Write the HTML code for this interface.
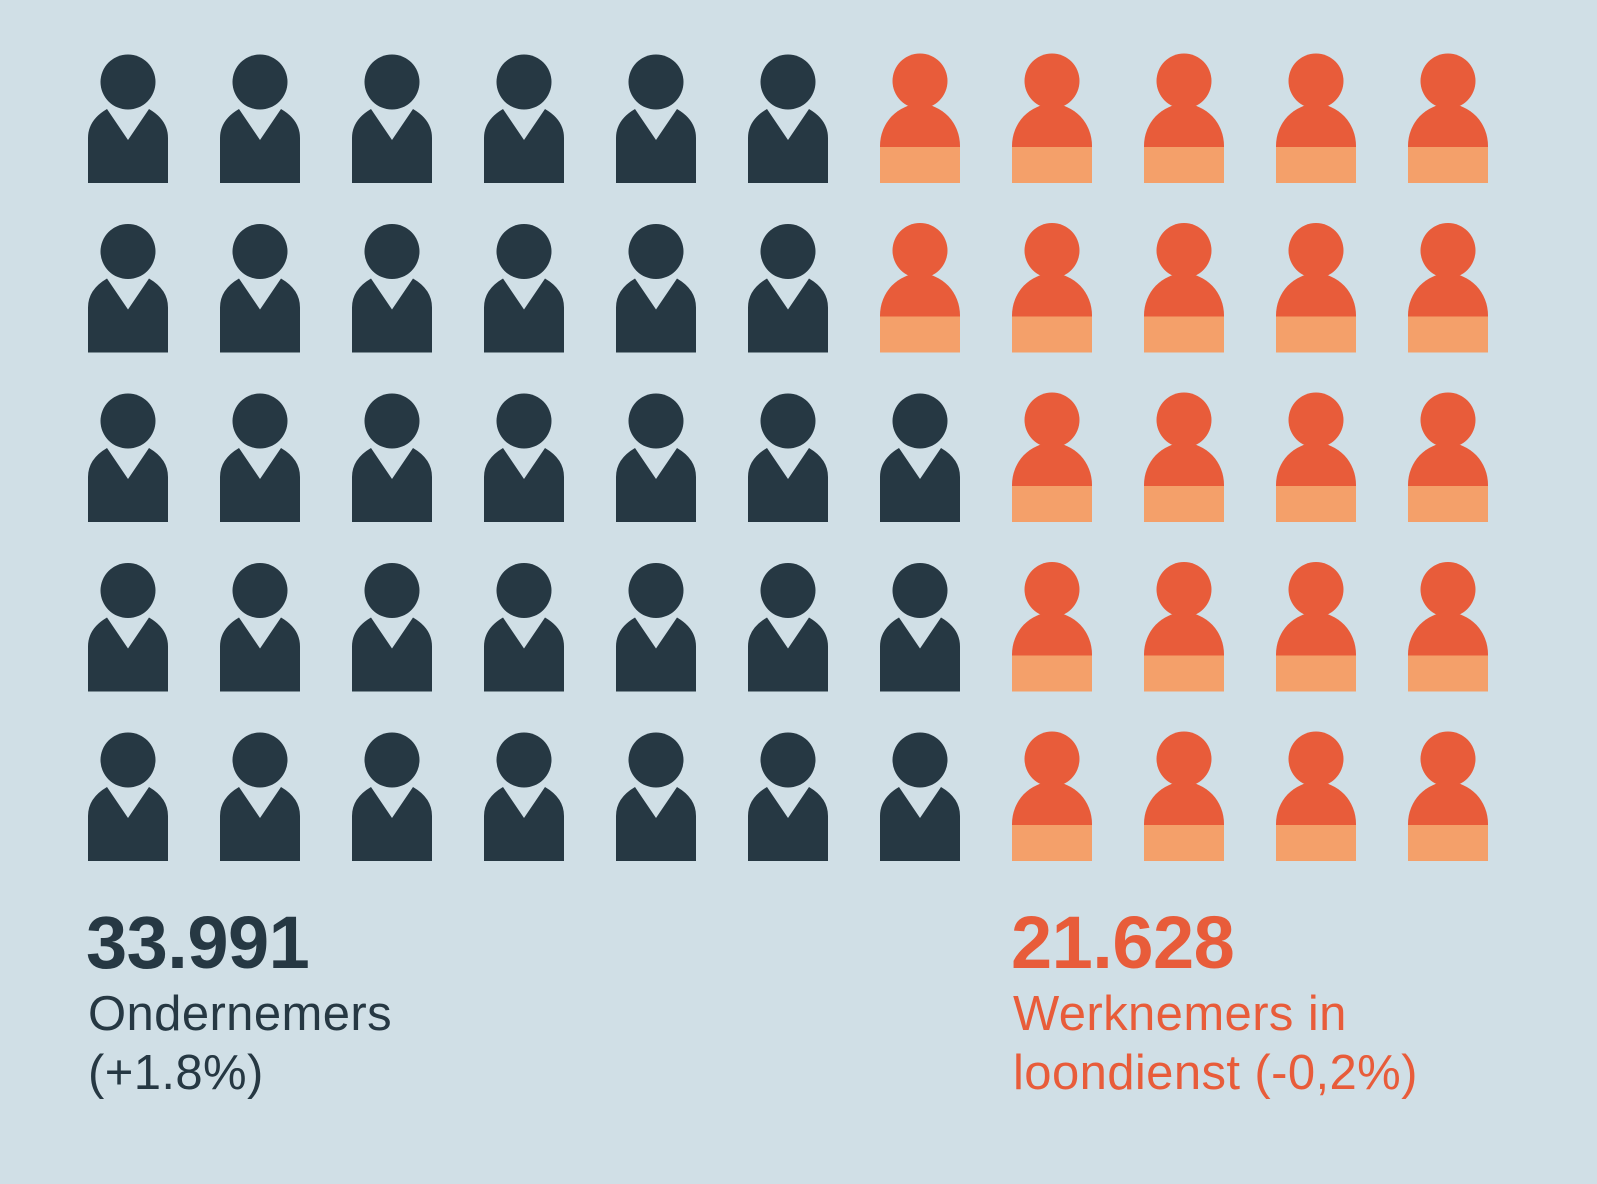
<!DOCTYPE html>
<html><head><meta charset="utf-8"><style>
html,body{margin:0;padding:0;background:#d0dfe6;}
body{width:1597px;height:1184px;overflow:hidden;position:relative;font-family:"Liberation Sans",Arial,sans-serif;}
.t{position:absolute;white-space:nowrap;}
</style></head><body>
<svg width="1597" height="900" style="position:absolute;left:0;top:0">
<defs>
<g id="d"><circle cx="40" cy="28" r="27.5" fill="#263843"/><path d="M0,129 L0,84 Q0,66 19,55 L40,86 L61,55 Q80,66 80,84 L80,129 Z" fill="#263843"/></g>
<g id="o"><path d="M0,129 L0,92 A40,42 0 0 1 80,92 L80,129 Z" fill="#e85c3a"/><circle cx="40" cy="27" r="27.5" fill="#e85c3a"/><rect x="0" y="93" width="80" height="36" fill="#f4a06a"/></g>
</defs>
<g id="grid"></g>
</svg>
<script>
var g=document.getElementById('grid'),s='';
for(var r=0;r<5;r++){for(var c=0;c<11;c++){var nd=r<2?6:7;var x=88+c*132,y=54+r*169.5;
s+='<use href="#'+(c<nd?'d':'o')+'" x="'+x+'" y="'+y+'"/>';}}
g.innerHTML=s;
</script>
<div class="t" style="left:86px;top:900px;font-size:74px;font-weight:bold;color:#263843;letter-spacing:-0.5px;">33.991</div>
<div class="t" style="left:88px;top:985px;font-size:49px;color:#263843;line-height:59px;letter-spacing:0.4px;">Ondernemers<br>(+1.8%)</div>
<div class="t" style="left:1011px;top:900px;font-size:74px;font-weight:bold;color:#e85c3a;letter-spacing:-0.5px;">21.628</div>
<div class="t" style="left:1013px;top:985px;font-size:49px;color:#e85c3a;line-height:59px;letter-spacing:0.4px;">Werknemers in<br>loondienst (-0,2%)</div>
</body></html>
